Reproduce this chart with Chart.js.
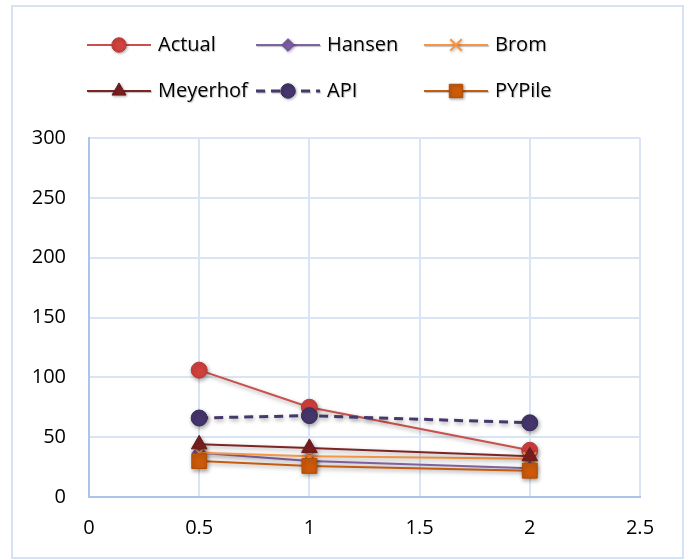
<!DOCTYPE html>
<html>
<head>
<meta charset="utf-8">
<script src="https://cdn.jsdelivr.net/npm/chart.js@4/dist/chart.umd.min.js"></script>
<style>
    html, body { margin: 0; padding: 0; background: #fff; }
    #wrap { width: 688px; height: 560px; }
</style>
</head>
<body>
<div id="wrap"><canvas id="pileChart" width="688" height="560"></canvas></div>
<script>
// Data
const xValues = [0.5, 1, 2];
const actual = [106, 75, 39];
const hansen = [37, 30, 24];
const brom = [37, 34, 32];
const meyerhof = [44, 41, 34];
const api = [66, 68, 62];
const pypile = [30, 26, 22];

const seriesNames = ['Actual', 'Hansen', 'Brom', 'Meyerhof', 'API', 'PYPile'];
const seriesValues = [actual, hansen, brom, meyerhof, api, pypile];

const xTicks = [0, 0.5, 1, 1.5, 2, 2.5];
const yTicks = [0, 50, 100, 150, 200, 250, 300];

const FONT = '"Open Sans", "Liberation Sans", sans-serif';

// Look of each series
const styles = [
    { line: '#c9504c', fill: '#d0403e', stroke: '#b73a38', point: 'circle', radius: 8, width: 2 },
    { line: '#8064a2', fill: '#7d5ba6', stroke: '#6a4c92', point: 'rectRot', radius: 7, width: 2 },
    { line: '#f79646', fill: '#f79646', stroke: '#f79646', point: 'crossRot', radius: 9, width: 2 },
    { line: '#7f2424', fill: '#7a1f1f', stroke: '#6b1a1a', point: 'triangle', radius: 9, width: 2 },
    { line: '#46386b', fill: '#45356c', stroke: '#3a2c5c', point: 'circle', radius: 8, width: 3, dash: [9, 6] },
    { line: '#c55a11', fill: '#cc5a0a', stroke: '#b04d08', point: 'rect', radius: 10.5, width: 2 }
];

// Legend grid positions (columns / rows)
const legendCols = [87, 256, 424];
const legendRows = [45, 91];

function drawMarker(ctx, s, x, y, scale) {
    const r = s.radius * scale;
    ctx.save();
    ctx.fillStyle = s.fill;
    ctx.strokeStyle = s.stroke;
    ctx.lineWidth = 1;
    ctx.setLineDash([]);
    ctx.beginPath();
    if (s.point === 'circle') {
        ctx.arc(x, y, r, 0, Math.PI * 2);
        ctx.fill(); ctx.stroke();
    } else if (s.point === 'rectRot') {
        ctx.moveTo(x, y - r); ctx.lineTo(x + r, y); ctx.lineTo(x, y + r); ctx.lineTo(x - r, y);
        ctx.closePath(); ctx.fill(); ctx.stroke();
    } else if (s.point === 'crossRot') {
        const d = r * Math.SQRT1_2;
        ctx.lineWidth = 2;
        ctx.moveTo(x - d, y - d); ctx.lineTo(x + d, y + d);
        ctx.moveTo(x + d, y - d); ctx.lineTo(x - d, y + d);
        ctx.stroke();
    } else if (s.point === 'triangle') {
        const w = r * Math.sqrt(3) / 2;
        ctx.moveTo(x, y - r); ctx.lineTo(x + w, y + r / 2); ctx.lineTo(x - w, y + r / 2);
        ctx.closePath(); ctx.fill(); ctx.stroke();
    } else if (s.point === 'rect') {
        const d = r * Math.SQRT1_2;
        ctx.rect(x - d, y - d, d * 2, d * 2);
        ctx.fill(); ctx.stroke();
    }
    ctx.restore();
}

// Legend plus outer frame
const framePlugin = {
    id: 'framePlugin',
    beforeDraw(chart) {
        const ctx = chart.ctx;
        ctx.save();
        ctx.fillStyle = '#ffffff';
        ctx.fillRect(0, 0, chart.width, chart.height);
        ctx.strokeStyle = '#d6e3f4';
        ctx.lineWidth = 2;
        ctx.strokeRect(12, 6, 671, 552);
        ctx.restore();
    },
    afterDraw(chart) {
        const ctx = chart.ctx;
        ctx.save();
        seriesNames.forEach((name, i) => {
            const s = styles[i];
            const x0 = legendCols[i % 3];
            const y = legendRows[Math.floor(i / 3)];
            ctx.strokeStyle = s.line;
            ctx.lineWidth = s.width;
            ctx.setLineDash(s.dash || []);
            ctx.beginPath();
            ctx.moveTo(x0, y);
            ctx.lineTo(x0 + 64, y);
            ctx.stroke();
            ctx.shadowColor = 'rgba(0,0,0,0.3)';
            ctx.shadowBlur = 3;
            ctx.shadowOffsetX = 1;
            ctx.shadowOffsetY = 1;
            drawMarker(ctx, s, x0 + 32, y, 0.9);
            ctx.shadowColor = 'rgba(0,0,0,0.25)';
            ctx.shadowBlur = 1;
            ctx.fillStyle = '#000';
            ctx.font = '20px ' + FONT;
            ctx.textBaseline = 'middle';
            ctx.textAlign = 'left';
            ctx.fillText(name, x0 + 71, y);
        });
        ctx.restore();
    }
};

// Soft drop shadow on lines and markers
const shadowPlugin = {
    id: 'shadowPlugin',
    beforeDatasetsDraw(chart) {
        const ctx = chart.ctx;
        ctx.save();
        ctx.shadowColor = 'rgba(0,0,0,0.35)';
        ctx.shadowBlur = 4;
        ctx.shadowOffsetX = 1;
        ctx.shadowOffsetY = 2;
    },
    afterDatasetsDraw(chart) {
        chart.ctx.restore();
    }
};

function initChart() {
    const ctx = document.getElementById('pileChart').getContext('2d');
    const datasets = seriesNames.map((name, i) => ({
        label: name,
        data: xValues.map((x, j) => ({ x: x, y: seriesValues[i][j] })),
        borderColor: styles[i].line,
        borderWidth: styles[i].width,
        borderDash: styles[i].dash || [],
        pointStyle: styles[i].point,
        pointRadius: styles[i].radius,
        pointBackgroundColor: styles[i].fill,
        pointBorderColor: styles[i].stroke,
        pointBorderWidth: styles[i].point === 'crossRot' ? 2 : 1,
        tension: 0,
        fill: false,
        order: seriesNames.length - i
    }));

    new Chart(ctx, {
        type: 'line',
        data: { datasets: datasets },
        options: {
            responsive: false,
            animation: false,
            events: [],
            layout: { padding: { top: 138, right: 48, bottom: 0, left: 0 } },
            plugins: {
                legend: { display: false },
                tooltip: { enabled: false }
            },
            scales: {
                x: {
                    type: 'linear',
                    min: 0,
                    max: 2.5,
                    afterBuildTicks: (scale) => { scale.ticks = xTicks.map(v => ({ value: v })); },
                    afterFit: (scale) => { scale.height = 63; },
                    grid: { color: '#d9e5f4', lineWidth: 2, drawTicks: false },
                    border: { color: '#a9c6ea', width: 2 },
                    ticks: {
                        color: '#000',
                        padding: 19,
                        font: { family: FONT, size: 20 },
                        callback: (v) => String(v)
                    }
                },
                y: {
                    min: 0,
                    max: 300,
                    afterBuildTicks: (scale) => { scale.ticks = yTicks.map(v => ({ value: v })); },
                    afterFit: (scale) => { scale.width = 89; },
                    grid: { color: '#d9e5f4', lineWidth: 2, drawTicks: false },
                    border: { color: '#a9c6ea', width: 2 },
                    ticks: {
                        color: '#000',
                        padding: 23,
                        font: { family: FONT, size: 20 },
                        callback: (v) => String(v)
                    }
                }
            }
        },
        plugins: [framePlugin, shadowPlugin]
    });
}

document.addEventListener('DOMContentLoaded', initChart);
</script>
</body>
</html>
